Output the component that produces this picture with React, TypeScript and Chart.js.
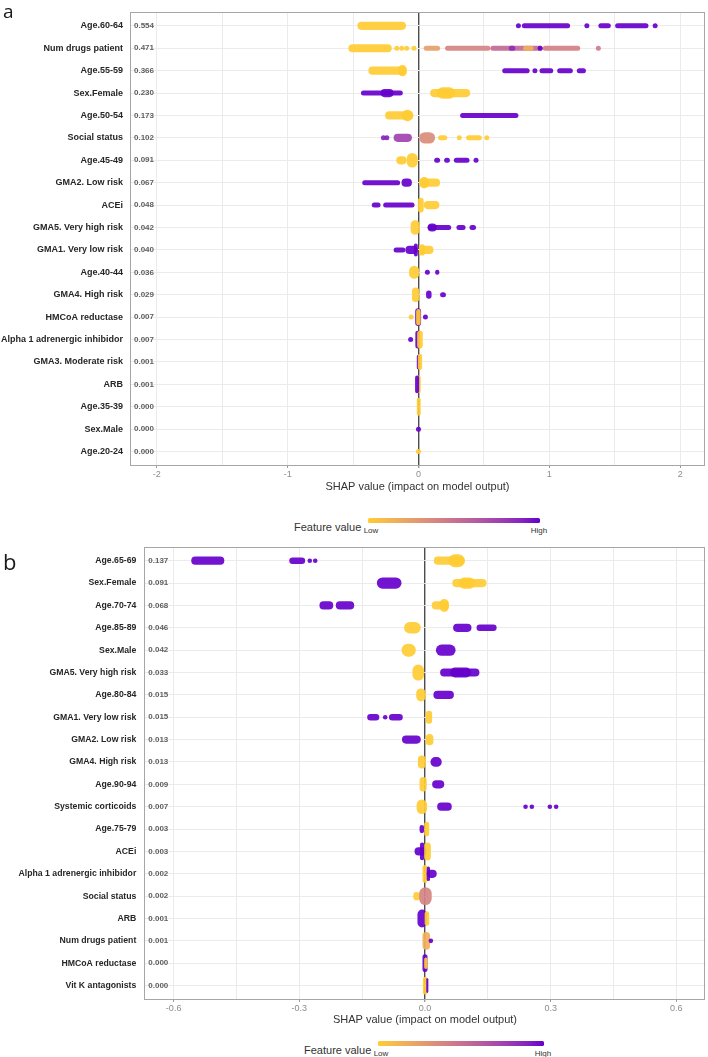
import React, { useEffect, useRef } from 'react';
import { Chart, registerables } from 'chart.js';

Chart.register(...registerables);

// ---------- Panel a ----------
const featuresA = [
  'Age.60-64', 'Num drugs patient', 'Age.55-59', 'Sex.Female', 'Age.50-54', 'Social status',
  'Age.45-49', 'GMA2. Low risk', 'ACEi', 'GMA5. Very high risk', 'GMA1. Very low risk',
  'Age.40-44', 'GMA4. High risk', 'HMCoA reductase', 'Alpha 1 adrenergic inhibidor',
  'GMA3. Moderate risk', 'ARB', 'Age.35-39', 'Sex.Male', 'Age.20-24',
];
const meanShapA = [
  0.554, 0.471, 0.366, 0.230, 0.173, 0.102, 0.091, 0.067, 0.048, 0.042,
  0.040, 0.036, 0.029, 0.007, 0.007, 0.001, 0.001, 0.000, 0.000, 0.000,
];
const xTicksA = [-2, -1.5, -1, -0.5, 0, 0.5, 1, 1.5, 2];
const xLabeledA = [-2, -1, 0, 1, 2];

// Dense runs of observations:
// [feature row, SHAP from, SHAP to, feature value (0 = low, 1 = high), pile-up of points]
const stripsA = [
  [1, -0.467, -0.095, 0, 2],
  [1, 0.79, 1.159, 1, 1],
  [1, 1.375, 1.47, 1, 1],
  [1, 1.503, 1.758, 1, 1],
  [2, -0.536, -0.204, 0, 2],
  [2, 0.04, 0.165, 0.25, 1],
  [2, 0.203, 0.55, 0.4, 1],
  [2, 0.55, 0.95, 0.55, 1],
  [2, 0.95, 1.236, 0.42, 1],
  [2, 0.8, 0.88, 0.15, 1],
  [2, 0.69, 0.74, 0.85, 1],
  [3, -0.383, -0.09, 0, 2],
  [3, -0.156, -0.09, 0, 3],
  [3, 0.64, 0.85, 1, 1],
  [3, 0.925, 1.03, 1, 1],
  [3, 1.06, 1.18, 1, 1],
  [3, 1.21, 1.28, 1, 1],
  [4, -0.44, -0.12, 1, 1],
  [4, -0.29, -0.19, 1, 2],
  [4, 0.089, 0.395, 0, 2],
  [4, 0.14, 0.28, 0, 3],
  [5, -0.255, -0.04, 0, 2],
  [5, -0.128, -0.04, 0, 3],
  [5, 0.318, 0.764, 1, 1],
  [6, -0.19, -0.05, 0.75, 2],
  [6, 0.0, 0.127, 0.35, 3],
  [6, 0.15, 0.22, 0, 1],
  [6, 0.293, 0.331, 0, 1],
  [6, 0.364, 0.484, 0, 1],
  [7, -0.17, -0.09, 0, 2],
  [7, -0.09, 0.0, 0, 4],
  [7, 0.12, 0.165, 1, 1],
  [7, 0.196, 0.24, 1, 1],
  [7, 0.27, 0.39, 1, 1],
  [8, -0.43, -0.14, 1, 1],
  [8, -0.13, -0.05, 1, 2],
  [8, 0.007, 0.165, 0, 2],
  [8, 0.007, 0.08, 0, 3],
  [9, -0.357, -0.29, 1, 1],
  [9, -0.27, -0.03, 1, 1],
  [9, 0.04, 0.16, 0, 2],
  [9, -0.005, 0.04, 0, 4],
  [10, -0.06, 0.01, 0, 4],
  [10, 0.07, 0.25, 1, 1],
  [10, 0.07, 0.14, 1, 2],
  [10, 0.29, 0.36, 1, 1],
  [10, 0.39, 0.44, 1, 1],
  [11, -0.19, -0.1, 1, 1],
  [11, -0.1, 0.0, 1, 2],
  [11, -0.035, 0.0, 1, 3.5],
  [11, 0.0, 0.115, 0, 2],
  [11, 0.0, 0.05, 0, 3],
  [12, -0.072, 0.007, 0, 3.5],
  [12, 0.127, 0.16, 1, 1],
  [13, -0.05, 0.007, 0, 4],
  [13, 0.058, 0.1, 1, 2],
  [13, 0.165, 0.21, 1, 1],
  [14, -0.025, 0.02, 1, 5],
  [14, -0.018, 0.017, 0, 4.5],
  [15, -0.024, 0.01, 1, 5],
  [15, -0.01, 0.033, 0, 5],
  [16, -0.013, 0.01, 1, 4],
  [16, -0.005, 0.028, 0, 4.5],
  [17, -0.01, 0.017, 0, 5],
  [17, -0.026, 0.005, 1, 5],
  [18, -0.013, 0.017, 0, 5],
];
// Single observations: [feature row, SHAP value, feature value]
const dotsA = [
  [1, 0.764, 1], [1, 1.287, 1], [1, 1.809, 1],
  [2, -0.166, 0], [2, -0.128, 0], [2, -0.09, 0], [2, -0.034, 0], [2, 0.93, 1], [2, 1.375, 0.45],
  [3, 0.89, 1],
  [6, -0.268, 0.9], [6, -0.242, 0.9], [6, 0.522, 0],
  [7, 0.44, 1],
  [12, 0.068, 1],
  [14, -0.056, 0], [14, 0.053, 1],
  [15, -0.06, 1],
  [19, 0, 1],
  [20, 0, 0],
];

// ---------- Panel b ----------
const featuresB = [
  'Age.65-69', 'Sex.Female', 'Age.70-74', 'Age.85-89', 'Sex.Male', 'GMA5. Very high risk',
  'Age.80-84', 'GMA1. Very low risk', 'GMA2. Low risk', 'GMA4. High risk', 'Age.90-94',
  'Systemic corticoids', 'Age.75-79', 'ACEi', 'Alpha 1 adrenergic inhibidor', 'Social status',
  'ARB', 'Num drugs patient', 'HMCoA reductase', 'Vit K antagonists',
];
const meanShapB = [
  0.137, 0.091, 0.068, 0.046, 0.042, 0.033, 0.015, 0.015, 0.013, 0.013,
  0.009, 0.007, 0.003, 0.003, 0.002, 0.002, 0.001, 0.001, 0.000, 0.000,
];
const xTicksB = [-0.6, -0.45, -0.3, -0.15, 0, 0.15, 0.3, 0.45, 0.6];
const xLabeledB = [-0.6, -0.3, 0, 0.3, 0.6];

const stripsB = [
  [1, -0.558, -0.479, 1, 2],
  [1, -0.324, -0.286, 1, 1.5],
  [1, 0.021, 0.095, 0, 2],
  [1, 0.056, 0.095, 0, 3.5],
  [2, -0.115, -0.056, 1, 3],
  [2, 0.065, 0.147, 0, 2],
  [2, 0.08, 0.12, 0, 3],
  [3, -0.252, -0.219, 1, 2],
  [3, -0.213, -0.169, 1, 2],
  [3, 0.016, 0.057, 0, 2],
  [3, 0.035, 0.057, 0, 3.5],
  [4, -0.05, -0.01, 0, 3],
  [4, 0.067, 0.111, 1, 2],
  [4, 0.123, 0.171, 1, 1.5],
  [5, -0.056, -0.022, 0, 3.5],
  [5, 0.026, 0.073, 1, 3],
  [6, -0.03, -0.002, 0, 4.5],
  [6, 0.036, 0.13, 1, 2],
  [6, 0.06, 0.11, 1, 2.5],
  [7, -0.021, 0.002, 0, 3.5],
  [7, 0.02, 0.069, 1, 2],
  [8, -0.138, -0.109, 1, 1.5],
  [8, -0.086, -0.053, 1, 1.5],
  [8, 0.0, 0.017, 0, 3.5],
  [9, -0.055, -0.01, 1, 2],
  [9, 0.0, 0.02, 0, 3],
  [10, -0.017, 0.002, 0, 3.5],
  [10, 0.013, 0.04, 1, 2.5],
  [11, -0.013, 0.004, 0, 4],
  [11, 0.017, 0.046, 1, 2],
  [12, -0.02, 0.005, 0, 4],
  [12, 0.029, 0.064, 1, 2],
  [13, -0.013, -0.002, 1, 2],
  [13, -0.002, 0.01, 0, 4],
  [14, -0.025, 0.004, 1, 2],
  [14, -0.012, 0.0, 1, 5],
  [14, -0.002, 0.014, 0, 5],
  [15, -0.006, 0.006, 0, 5],
  [15, 0.004, 0.028, 1, 2],
  [15, 0.004, 0.012, 1, 4],
  [16, -0.028, -0.012, 0, 2],
  [16, -0.014, 0.016, 0.4, 5],
  [17, -0.018, 0.004, 1, 5],
  [17, -0.001, 0.01, 0, 4],
  [18, -0.006, 0.012, 0.15, 5],
  [19, -0.006, 0.006, 1, 5],
  [19, -0.002, 0.006, 0, 3],
  [20, -0.005, 0.006, 0, 5],
  [20, 0.003, 0.008, 1, 4],
];
const dotsB = [
  [1, -0.275, 1], [1, -0.262, 1],
  [8, -0.095, 1],
  [12, 0.24, 1], [12, 0.255, 1], [12, 0.298, 1], [12, 0.313, 1],
  [18, 0.014, 1],
];

// ---------- colour scale: low #FFCC33 -> high #6600CC, interpolated in CIELAB ----------
const LOW = '#FFCC33';
const HIGH = '#6600CC';

function hexToRgb(h: string) {
  const n = parseInt(h.slice(1), 16);
  return [(n >> 16) & 255, (n >> 8) & 255, n & 255];
}
function toLin(c: number) {
  const v = c / 255;
  return v <= 0.04045 ? v / 12.92 : Math.pow((v + 0.055) / 1.055, 2.4);
}
function fromLin(c: number) {
  const v = c <= 0.0031308 ? 12.92 * c : 1.055 * Math.pow(c, 1 / 2.4) - 0.055;
  return Math.round(Math.max(0, Math.min(1, v)) * 255);
}
function rgbToLab(rgb: number[]) {
  const [R, G, B] = rgb.map(toLin);
  const X = (0.4124 * R + 0.3576 * G + 0.1805 * B) / 0.95047;
  const Y = 0.2126 * R + 0.7152 * G + 0.0722 * B;
  const Z = (0.0193 * R + 0.1192 * G + 0.9505 * B) / 1.08883;
  const f = (t: number) => (t > 216 / 24389 ? Math.cbrt(t) : ((24389 / 27) * t + 16) / 116);
  const fx = f(X), fy = f(Y), fz = f(Z);
  return [116 * fy - 16, 500 * (fx - fy), 200 * (fy - fz)];
}
function labToRgb(lab: number[]) {
  const [L, a, b] = lab;
  const fy = (L + 16) / 116, fx = fy + a / 500, fz = fy - b / 200;
  const inv = (t: number) => (t * t * t > 216 / 24389 ? t * t * t : (116 * t - 16) / (24389 / 27));
  const X = inv(fx) * 0.95047, Y = inv(fy), Z = inv(fz) * 1.08883;
  return [
    fromLin(3.2406 * X - 1.5372 * Y - 0.4986 * Z),
    fromLin(-0.9689 * X + 1.8758 * Y + 0.0415 * Z),
    fromLin(0.0557 * X - 0.204 * Y + 1.057 * Z),
  ];
}
const labLow = rgbToLab(hexToRgb(LOW));
const labHigh = rgbToLab(hexToRgb(HIGH));
function featureColor(t: number, alpha = 1) {
  const lab = labLow.map((v, i) => v + (labHigh[i] - v) * t);
  const [r, g, b] = labToRgb(lab);
  return `rgba(${r},${g},${b},${alpha})`;
}

// ---------- chart construction ----------
const SANS = '"Liberation Sans", Arial, sans-serif';

type Panel = {
  features: string[];
  means: number[];
  strips: number[][];
  dots: number[][];
  xTicks: number[];
  xLabeled: number[];
  xMin: number;
  xMax: number;
  fmt: (v: number) => string;
  padTop: number;
  padRight: number;
  yAxisWidth: number;
  xAxisHeight: number;
  nameSize: number;
  nameGap: number;
  dotRadius: number;
};

function pileToPx(pile: number) {
  return 5 + (pile - 1) * 3.2;
}

function buildConfig(p: Panel): any {
  const n = p.features.length;
  const datasets: any[] = [];
  p.strips.forEach(([row, from, to, fv, pile]) => {
    const t = pileToPx(pile);
    datasets.push({
      type: 'bar',
      indexAxis: 'y',
      data: [{ x: [from, to], y: row }],
      backgroundColor: featureColor(fv, 0.92),
      borderWidth: 0,
      borderSkipped: false,
      borderRadius: 20,
      barThickness: t,
      maxBarThickness: t,
      grouped: false,
      inflateAmount: 0,
    });
  });
  datasets.push({
    type: 'scatter',
    data: p.dots.map(([row, x]) => ({ x, y: row })),
    backgroundColor: p.dots.map((d) => featureColor(d[2], 0.92)),
    pointRadius: p.dotRadius,
    pointHoverRadius: p.dotRadius,
    pointBorderWidth: 0,
    borderWidth: 0,
  });
  // later entries are painted on top
  datasets.reverse();

  const isLabeled = (v: number) => p.xLabeled.some((l) => Math.abs(l - v) < 1e-9);

  const framePlugin = {
    id: 'panelFrame',
    beforeDatasetsDraw(chart: any) {
      const { ctx, chartArea: a, scales } = chart;
      ctx.save();
      ctx.font = `bold 8px ${SANS}`;
      ctx.fillStyle = '#5e5e5e';
      ctx.textAlign = 'left';
      ctx.textBaseline = 'middle';
      p.means.forEach((m, i) => {
        ctx.fillText(m.toFixed(3), a.left + 4, scales.y.getPixelForValue(i + 1));
      });
      ctx.restore();
    },
    afterDraw(chart: any) {
      const { ctx, chartArea: a } = chart;
      ctx.save();
      ctx.strokeStyle = '#a6a6a6';
      ctx.lineWidth = 1;
      ctx.strokeRect(Math.round(a.left) + 0.5, Math.round(a.top) + 0.5, Math.round(a.right - a.left) - 1, Math.round(a.bottom - a.top));
      ctx.restore();
    },
  };

  return {
    type: 'bar',
    data: { datasets },
    options: {
      responsive: false,
      animation: false,
      indexAxis: 'y',
      events: [],
      layout: { padding: { top: p.padTop, right: p.padRight, left: 0, bottom: 0 } },
      plugins: { legend: { display: false }, tooltip: { enabled: false } },
      scales: {
        x: {
          type: 'linear',
          position: 'bottom',
          min: p.xMin,
          max: p.xMax,
          offset: false,
          afterBuildTicks: (axis: any) => {
            axis.ticks = p.xTicks.map((v) => ({ value: v }));
          },
          afterFit: (axis: any) => {
            axis.height = p.xAxisHeight;
          },
          grid: {
            offset: false,
            drawTicks: true,
            tickLength: 3,
            color: (c: any) => (c.tick && Math.abs(c.tick.value) < 1e-9 ? '#4d4d4d' : '#ebebeb'),
            lineWidth: (c: any) => (c.tick && Math.abs(c.tick.value) < 1e-9 ? 1.4 : 1),
            tickColor: (c: any) => (c.tick && isLabeled(c.tick.value) ? '#9a9a9a' : 'rgba(0,0,0,0)'),
          },
          border: { display: false },
          ticks: {
            autoSkip: false,
            maxRotation: 0,
            padding: 1,
            color: '#8c8c8c',
            font: { family: SANS, size: 9 },
            callback: (v: number) => (isLabeled(v) ? p.fmt(v) : ''),
          },
          title: {
            display: true,
            text: 'SHAP value (impact on model output)',
            color: '#333333',
            font: { family: SANS, size: 11 },
            padding: { top: 0, bottom: 1 },
          },
        },
        y: {
          type: 'linear',
          reverse: true,
          min: 0.4,
          max: n + 0.6,
          offset: false,
          afterBuildTicks: (axis: any) => {
            axis.ticks = p.features.map((_, i) => ({ value: i + 1 }));
          },
          afterFit: (axis: any) => {
            axis.width = p.yAxisWidth;
          },
          grid: { color: '#ebebeb', drawTicks: false, offset: false },
          border: { display: false },
          ticks: {
            autoSkip: false,
            padding: p.nameGap,
            color: '#262626',
            font: { family: SANS, weight: 'bold', size: p.nameSize },
            callback: (v: number) => p.features[Math.round(v) - 1] ?? '',
          },
        },
      },
    },
    plugins: [framePlugin],
  };
}

function ShapPanel({ panel, width, height }: { panel: Panel; width: number; height: number }) {
  const ref = useRef<HTMLCanvasElement>(null);
  useEffect(() => {
    const chart = new Chart(ref.current as HTMLCanvasElement, buildConfig(panel));
    return () => chart.destroy();
  }, [panel]);
  return <canvas ref={ref} width={width} height={height} style={{ display: 'block', width, height }} />;
}

function gradientCss() {
  const stops: string[] = [];
  for (let i = 0; i <= 10; i++) stops.push(`${featureColor(i / 10)} ${i * 10}%`);
  return `linear-gradient(to right, ${stops.join(', ')})`;
}

function FeatureLegend({ barLeft, barWidth, barY }: { barLeft: number; barWidth: number; barY: number }) {
  const txt: React.CSSProperties = { position: 'absolute', fontFamily: SANS, color: '#333', whiteSpace: 'nowrap' };
  return (
    <>
      <div style={{ ...txt, fontSize: 11, lineHeight: '12px', left: barLeft - 74, width: 62, textAlign: 'right', top: barY + 1 }}>
        Feature value
      </div>
      <div style={{ position: 'absolute', left: barLeft, top: barY - 2.5, width: barWidth, height: 5, borderRadius: 1.5, background: gradientCss() }} />
      <div style={{ ...txt, fontSize: 8, lineHeight: '8px', left: barLeft - 7, width: 20, textAlign: 'center', top: barY + 7 }}>Low</div>
      <div style={{ ...txt, fontSize: 8, lineHeight: '8px', left: barLeft + barWidth - 11, width: 20, textAlign: 'center', top: barY + 7 }}>High</div>
    </>
  );
}

const panelA: Panel = {
  features: featuresA,
  means: meanShapA,
  strips: stripsA,
  dots: dotsA,
  xTicks: xTicksA,
  xLabeled: xLabeledA,
  xMin: -2.205,
  xMax: 2.19,
  fmt: (v) => String(v),
  padTop: 2,
  padRight: 3,
  yAxisWidth: 130,
  xAxisHeight: 30,
  nameSize: 9,
  nameGap: 7,
  dotRadius: 2.5,
};

const panelB: Panel = {
  features: featuresB,
  means: meanShapB,
  strips: stripsB,
  dots: dotsB,
  xTicks: xTicksB,
  xLabeled: xLabeledB,
  xMin: -0.67,
  xMax: 0.67,
  fmt: (v) => v.toFixed(1),
  padTop: 17.3,
  padRight: 2,
  yAxisWidth: 144.3,
  xAxisHeight: 29,
  nameSize: 8.7,
  nameGap: 8,
  dotRadius: 2.3,
};

export default function App() {
  const panelLetter: React.CSSProperties = {
    position: 'absolute',
    fontFamily: '"Open Sans", "Noto Sans", sans-serif',
    color: '#1a1a1a',
    lineHeight: 1,
  };
  return (
    <div style={{ position: 'absolute', left: 0, top: 0, width: 708, height: 1057, background: '#ffffff', overflow: 'hidden' }}>
      <div style={{ position: 'absolute', left: 0, top: 0 }}>
        <ShapPanel panel={panelA} width={708} height={495} />
      </div>
      <div style={{ ...panelLetter, left: 3, top: 2, fontSize: 19 }}>a</div>
      <FeatureLegend barLeft={368} barWidth={172} barY={520} />

      <div style={{ position: 'absolute', left: 0, top: 530 }}>
        <ShapPanel panel={panelB} width={708} height={498} />
      </div>
      <div style={{ ...panelLetter, left: 3, top: 550, fontSize: 22 }}>b</div>
      <FeatureLegend barLeft={378} barWidth={166} barY={1043} />
    </div>
  );
}
